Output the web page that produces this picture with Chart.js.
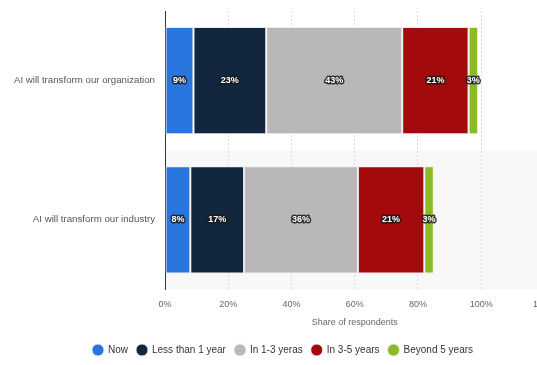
<!DOCTYPE html>
<html>
<head>
<meta charset="utf-8">
<script src="https://cdn.jsdelivr.net/npm/chart.js@4.4.0/dist/chart.umd.min.js"></script>
<style>
  html, body { margin: 0; padding: 0; overflow: hidden; background: #fff; }
  #wrap { width: 566px; height: 365px; }
</style>
</head>
<body>
<div id="wrap"><canvas id="chart"></canvas></div>
<script>
// categories and series (share of respondents, %)
var categories = ['AI will transform our organization', 'AI will transform our industry'];
var seriesNames = ['Now', 'Less than 1 year', 'In 1-3 yeras', 'In 3-5 years', 'Beyond 5 years'];
var nowVals = [9, 8];
var lessThan1Vals = [23, 17];
var in1to3Vals = [43, 36];
var in3to5Vals = [21, 21];
var beyond5Vals = [3, 3];
var xTicks = [0, 20, 40, 60, 80, 100, 120];
var colors = ['#2876dd', '#12273d', '#b8b8b8', '#a20a0b', '#8aba25'];

var FONT = '"Liberation Sans", Arial, sans-serif';

var seriesVals = [nowVals, lessThan1Vals, in1to3Vals, in3to5Vals, beyond5Vals];
var datasets = seriesNames.map(function (name, i) {
  return {
    label: name,
    data: seriesVals[i],
    backgroundColor: colors[i],
    borderColor: 'rgba(235,235,235,0.9)',
    borderWidth: 1,
    borderSkipped: false,
    categoryPercentage: 1,
    barPercentage: 0.77
  };
});

// alternating row background
var bandPlugin = {
  id: 'bands',
  beforeDraw: function (chart) {
    var ctx = chart.ctx, area = chart.chartArea, y = chart.scales.y;
    var step = (area.bottom - area.top) / categories.length;
    ctx.save();
    ctx.fillStyle = '#f8f8f8';
    for (var i = 0; i < categories.length; i++) {
      if (i % 2 === 1) {
        var c = y.getPixelForValue(i);
        ctx.fillRect(area.left, c - step / 2, area.right - area.left, step);
      }
    }
    ctx.restore();
  }
};

// white labels with a dark outline
var labelPlugin = {
  id: 'valueLabels',
  afterDatasetsDraw: function (chart) {
    var ctx = chart.ctx;
    ctx.save();
    ctx.font = 'bold 9px ' + FONT;
    ctx.textAlign = 'center';
    ctx.textBaseline = 'middle';
    ctx.lineJoin = 'round';
    chart.data.datasets.forEach(function (ds, di) {
      chart.getDatasetMeta(di).data.forEach(function (bar, j) {
        var p = bar.getCenterPoint();
        var t = ds.data[j] + '%';
        ctx.lineWidth = 3;
        ctx.strokeStyle = 'rgba(25,25,25,0.85)';
        ctx.strokeText(t, p.x, p.y);
        ctx.fillStyle = '#fff';
        ctx.fillText(t, p.x, p.y);
      });
    });
    ctx.restore();
  }
};

new Chart(document.getElementById('chart'), {
  type: 'bar',
  data: { labels: categories, datasets: datasets },
  options: {
    indexAxis: 'y',
    responsive: true,
    maintainAspectRatio: false,
    animation: false,
    layout: { padding: { top: 11, left: 0, right: 0, bottom: 0 } },
    scales: {
      x: {
        stacked: true,
        min: 0,
        max: 120,
        afterBuildTicks: function (s) { s.ticks = xTicks.map(function (v) { return { value: v }; }); },
        grid: { color: '#dcdcdc', drawTicks: false, tickLength: 0 },
        border: { display: false, dash: [2, 2] },
        ticks: {
          color: '#666',
          font: { family: FONT, size: 9 },
          padding: 10,
          callback: function (v) { return v + '%'; }
        },
        title: {
          display: true,
          text: 'Share of respondents',
          color: '#666',
          font: { family: FONT, size: 9 },
          padding: { top: -3, bottom: 8 }
        }
      },
      y: {
        stacked: true,
        grid: { display: false, drawTicks: false },
        border: { display: true, color: '#333', width: 1 },
        ticks: {
          color: '#555',
          font: { family: FONT, size: 9.7 },
          padding: 10
        },
        afterFit: function (s) { s.width = 165; s.paddingTop = 0; s.paddingBottom = 0; }
      }
    },
    plugins: {
      legend: {
        position: 'bottom',
        labels: {
          usePointStyle: true,
          pointStyle: 'circle',
          boxWidth: 11,
          boxHeight: 8.5,
          padding: 9,
          color: '#333',
          font: { family: FONT, size: 10 }
        }
      },
      tooltip: { enabled: false }
    }
  },
  plugins: [bandPlugin, labelPlugin]
});
</script>
</body>
</html>
